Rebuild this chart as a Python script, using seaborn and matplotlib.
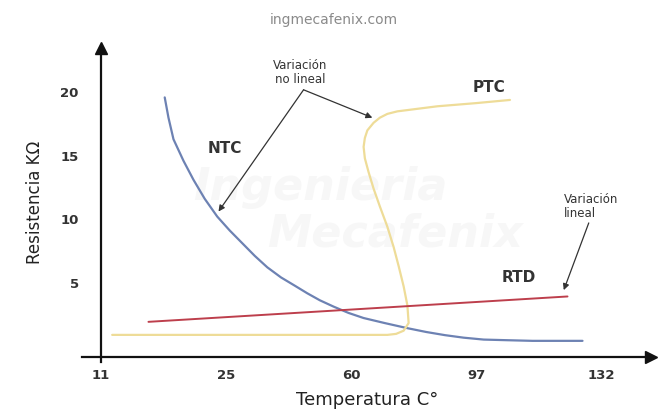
import matplotlib
matplotlib.use("Agg")
import matplotlib.pyplot as plt
import seaborn as sns

# posiciones de las marcas (espaciado uniforme) y sus etiquetas
pos_x = [0, 1, 2, 3, 4]
etiquetas_x = ["11", "25", "60", "97", "132"]
ticks_y = [5, 10, 15, 20]

# curva NTC
ntc_x = [0.51, 0.54, 0.58, 0.66, 0.74, 0.83, 0.93, 1.03, 1.13, 1.23, 1.33, 1.44, 1.55, 1.65, 1.75, 1.86,
         1.98, 2.10, 2.27, 2.45, 2.60, 2.75, 2.90, 3.06, 3.25, 3.45, 3.65, 3.85]
ntc_y = [19.6, 18.0, 16.3, 14.6, 13.1, 11.6, 10.2, 9.1, 8.1, 7.1, 6.2, 5.4, 4.75, 4.15, 3.6, 3.1,
         2.6, 2.2, 1.8, 1.4, 1.1, 0.85, 0.65, 0.5, 0.45, 0.4, 0.4, 0.4]

# curva PTC (no es funcion de x, se dibuja en orden)
ptc_x = [0.09, 2.29, 2.36, 2.42, 2.46, 2.45, 2.42, 2.38, 2.34, 2.29, 2.23, 2.18, 2.14, 2.11, 2.10,
         2.11, 2.13, 2.18, 2.23, 2.29, 2.37, 2.45, 2.69, 3.00, 3.27]
ptc_y = [0.87, 0.87, 0.95, 1.2, 1.8, 3.2, 4.7, 6.3, 7.8, 9.4, 11.0, 12.4, 13.7, 14.8, 15.7,
         16.4, 17.0, 17.6, 18.0, 18.3, 18.5, 18.6, 18.9, 19.15, 19.4]

# RTD lineal
rtd_x = [0.38, 3.73]
rtd_y = [1.9, 3.9]

sns.set_style("white")

fig = plt.figure(figsize=(6.68, 4.17), dpi=100)
ax = fig.add_axes([0.123, 0.144, 0.852, 0.741])
ax.set_xlim(-0.15, 4.4)
ax.set_ylim(-0.87, 23.5)

# marca de agua
ax.text(1.75, 12.5, "Ingenieria", fontsize=32, fontstyle="italic", fontweight="bold",
        color="#f7f7f7", ha="center", va="center", zorder=0)
ax.text(2.35, 8.8, "Mecafenix", fontsize=32, fontstyle="italic", fontweight="bold",
        color="#f7f7f7", ha="center", va="center", zorder=0)

sns.lineplot(x=ntc_x, y=ntc_y, ax=ax, color="#6d82b3", linewidth=1.6, estimator=None, sort=False)
sns.lineplot(x=ptc_x, y=ptc_y, ax=ax, color="#eedc98", linewidth=1.6, estimator=None, sort=False)
sns.lineplot(x=rtd_x, y=rtd_y, ax=ax, color="#bd3f4c", linewidth=1.4, estimator=None, sort=False)

# ejes con flechas
for s in ["top", "right"]:
    ax.spines[s].set_visible(False)
ax.spines["left"].set_position(("data", 0))
ax.spines["bottom"].set_position(("data", -0.87))
ax.spines["left"].set_color("#111111")
ax.spines["bottom"].set_color("#111111")
ax.spines["left"].set_linewidth(1.6)
ax.spines["bottom"].set_linewidth(1.6)
ax.spines["left"].set_bounds(-1.3, 23.5)
ax.plot(1, -0.87, ">", color="#111111", markersize=9, transform=ax.get_yaxis_transform(), clip_on=False)
ax.plot(0, 1, "^", color="#111111", markersize=9, transform=ax.get_xaxis_transform(), clip_on=False)

ax.set_xticks(pos_x)
ax.set_xticklabels(etiquetas_x)
ax.set_yticks(ticks_y)
ax.tick_params(axis="both", length=0, labelsize=9.5, labelcolor="#333333")
ax.tick_params(axis="x", pad=9)
ax.tick_params(axis="y", pad=16)
for t in ax.get_xticklabels() + ax.get_yticklabels():
    t.set_fontweight("bold")

ax.set_xlabel("Temperatura C°", fontsize=13, color="#222222", labelpad=6)
ax.set_ylabel("Resistencia KΩ", fontsize=12, color="#222222", labelpad=12)

# etiquetas de curvas
ax.text(0.99, 15.6, "NTC", fontsize=11, fontweight="bold", color="#333333", ha="center", va="center")
ax.text(3.10, 20.4, "PTC", fontsize=11, fontweight="bold", color="#333333", ha="center", va="center")
ax.text(3.34, 5.4, "RTD", fontsize=11, fontweight="bold", color="#333333", ha="center", va="center")

# anotaciones
ax.text(1.59, 21.6, "Variación\nno lineal", fontsize=8.5, color="#333333", ha="center", va="center",
        linespacing=1.1)
ap = dict(arrowstyle="-|>", color="#333333", lw=0.9, mutation_scale=9, shrinkA=0, shrinkB=0)
ax.annotate("", xy=(0.94, 10.6), xytext=(1.62, 20.2), arrowprops=ap)
ax.annotate("", xy=(2.17, 18.0), xytext=(1.62, 20.2), arrowprops=ap)

ax.text(3.70, 11.0, "Variación\nlineal", fontsize=8.5, color="#333333", ha="left", va="center",
        linespacing=1.1)
ax.annotate("", xy=(3.70, 4.4), xytext=(3.90, 9.7), arrowprops=ap)

fig.text(0.5, 0.952, "ingmecafenix.com", fontsize=10, color="#8a8a8a", ha="center", va="center")

fig.savefig("out.png", dpi=100)
